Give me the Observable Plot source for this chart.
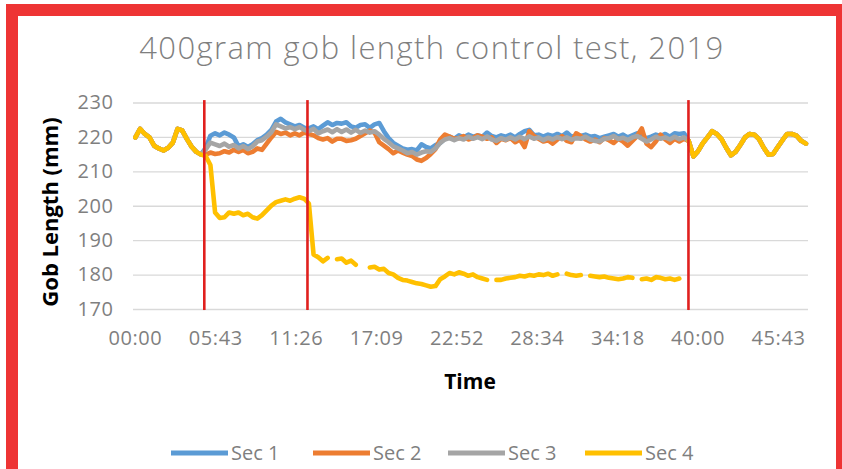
<!DOCTYPE html>
<html>
<head>
<meta charset="utf-8">
<script src="https://cdn.jsdelivr.net/npm/d3@7"></script>
<script src="https://cdn.jsdelivr.net/npm/@observablehq/plot@0.6"></script>
<style>
  html, body { margin: 0; padding: 0; background: #fff; }
  #wrap { position: relative; width: 842px; height: 469px; overflow: hidden; background: #fff; font-family: "Open Sans", sans-serif; }
  #frame { position: absolute; left: 6px; top: 4px; width: 842px; height: 540px; box-sizing: border-box; border: 12px solid #EE3434; }
  #chart { position: absolute; left: 0; top: 0; }
  #chart svg g[aria-label="x-axis tick label"] text, #chart svg g[aria-label="y-axis tick label"] text { letter-spacing: 0.6px; }
</style>
</head>
<body>
<div id="wrap"><div id="frame"></div><div id="chart"></div></div>
<script>
// ---- data ----
const sampleStep = 20; // seconds between samples
const seriesNames = ["Sec 1", "Sec 2", "Sec 3", "Sec 4"];
const seriesColors = ["#5B9BD5", "#ED7D31", "#A5A5A5", "#FFC000"];

// samples 0..14 (00:00 - 04:40), all four sections identical
const startShared = [220, 222.5, 221, 220, 217.6, 216.8, 216.2, 217, 218.5, 222.5, 222, 219.5, 217.3, 215.8, 215];

// samples 15..117 (05:00 - 39:00)
const sec1Mid = [
  217, 220.5, 221.2, 220.6, 221.4, 220.8, 220, 217.4, 218, 217.2,
  218, 219.2, 219.8, 220.8, 222.2, 224.6, 225.4, 224.4, 223.8, 223.2,
  223.6, 222.8, 222.6, 223.2, 222.4, 223.4, 224.4, 223.6, 224.2, 224,
  224.4, 223.2, 222.8, 223.6, 223.8, 222.8, 223.8, 224.2, 221.8, 219.8,
  218.4, 217.6, 216.8, 216.4, 216.6, 216.2, 218, 217.2, 216.8, 217.8,
  218.4, 219.6, 220.2, 219.6, 220.6, 220, 220.8, 220.2, 220.6, 220.2,
  221.4, 220.4, 220, 220.6, 220.2, 220.8, 220, 221, 221.8, 222.2,
  220.6, 220.8, 220.2, 220.8, 220.4, 221, 220.4, 221.4, 220.2, 220.6,
  220.4, 220.8, 220.2, 220.4, 219.8, 220.2, 220.6, 221, 220.2, 220.8,
  220, 220.6, 221.2, 220.4, 219.8, 220.2, 220.8, 220.4, 221, 220.2,
  221.2, 221, 221.2
];
const sec2Mid = [
  215, 215.6, 215.2, 215.4, 216, 215.6, 216.4, 215.8, 216.4, 215.4,
  215.8, 216.8, 216.4, 218.2, 220, 221.6, 221, 221.4, 220.6, 221.2,
  220.6, 221.4, 221, 220.6, 219.8, 219.4, 219.8, 218.8, 219.6, 219.6,
  219, 219.2, 219.6, 220.4, 221.2, 222, 221.4, 218.6, 217.6, 216.6,
  215.4, 216.2, 215.6, 215, 214.6, 213.6, 213.2, 214, 215.2, 216.6,
  219.4, 220.8, 220.2, 219.6, 219.8, 220.4, 219.4, 219.8, 220.6, 220.2,
  219.6, 220, 218.4, 219.6, 219.2, 219.8, 218.6, 219.4, 217.2, 221.8,
  220.4, 219.6, 218.8, 219.2, 218.2, 219.4, 220.4, 219, 218.6, 221.2,
  220.4, 219.4, 218.8, 219.4, 218.6, 219.8, 219.2, 218.4, 219.6, 218.8,
  217.6, 219, 220.4, 222.6, 218.2, 217.2, 218.8, 220.8, 219.4, 218.4,
  219.6, 218.8, 219.6
];
const sec3Mid = [
  216.5, 218.5, 218, 217.5, 218.2, 217.3, 217.8, 216.8, 217.5, 216.6,
  217.4, 218.8, 219.2, 220.2, 221.5, 223.8, 223.2, 222.6, 223, 222.4,
  223, 222.2, 221.8, 222.5, 221.2, 221.8, 222.3, 221.5, 222.4, 221.6,
  222.3, 221.4, 222.2, 221.3, 222, 221.4, 221.8, 220.8, 219.6, 218.6,
  217.4, 216.8, 216.2, 215.4, 215.8, 215, 215.6, 216, 215.8, 216.8,
  218.4, 219.4, 219.8, 219.2, 219.8, 219.4, 220.2, 219.6, 220.1, 219.5,
  220.3, 219.4, 219, 219.8, 219.3, 220, 219.4, 220.2, 219.5, 220.3,
  219.6, 220, 219.2, 219.9, 219.4, 220.1, 219.5, 220, 219.3, 219.8,
  219.6, 220.2, 219.4, 219, 218.8, 219.6, 219.8, 220.4, 219.5, 219.9,
  219.2, 220, 220.4, 219.6, 218.8, 219.4, 220.2, 219.6, 220, 219.4,
  220.2, 219.5, 220
];
const sec4Mid = [
  214.6, 212, 198.2, 196.6, 196.8, 198.2, 197.8, 198.2, 197.4, 197.8,
  196.8, 196.4, 197.4, 198.8, 200.2, 201.2, 201.6, 202, 201.6, 202.2,
  202.6, 202.2, 200.8, 186, 185.2, 184, 185, null, 184.6, 184.8,
  183.6, 184.2, 183, null, null, 182.2, 182.4, 181.6, 181.8, 180.6,
  180.2, 179.2, 178.6, 178.4, 178, 177.6, 177.4, 177, 176.6, 176.8,
  178.8, 179.6, 180.6, 180.2, 180.8, 180.4, 179.8, 180.2, 179.4, 179,
  178.6, null, 178.6, 178.6, 179, 179.2, 179.4, 179.8, 179.6, 180,
  179.8, 180.2, 180, 180.4, 179.8, 180.2, null, 180.4, 180, 179.8,
  180, null, 179.8, 179.6, 179.4, 179.6, 179.2, 179, 178.8, 179,
  179.4, 179.2, null, 178.8, 179, 178.6, 179.4, 179.2, 178.8, 179,
  178.6, 179, null
];

// samples 118..143 (39:20 - 47:40), all four sections identical
const endShared = [219, 214.5, 216, 218.3, 220, 221.8, 221, 219.5, 217, 214.8, 215.8, 217.8, 220, 221, 220.8, 219.5, 217, 215, 215.2, 217.2, 219.2, 221, 221, 220.5, 219, 218.2];

const xTickLabels = ["00:00", "05:43", "11:26", "17:09", "22:52", "28:34", "34:18", "40:00", "45:43"];
const yTicks = [170, 180, 190, 200, 210, 220, 230];
const changeTimes = ["04:54", "12:14", "39:19"]; // red marker lines

// ---- build ----
const toSec = s => { const [m, ss] = s.split(":").map(Number); return m * 60 + ss; };
const xTicks = xTickLabels.map(toSec);
const markers = changeTimes.map(toSec);
const mids = [sec1Mid, sec2Mid, sec3Mid, sec4Mid];
const rows = [];
seriesNames.forEach((name, k) => {
  const vals = [...startShared, ...mids[k], ...endShared];
  vals.forEach((v, i) => rows.push({series: name, t: i * sampleStep, v}));
});

const chart = Plot.plot({
  width: 842,
  height: 469,
  marginLeft: 133,
  marginRight: 34,
  marginTop: 102.5,
  marginBottom: 160,
  style: {fontFamily: "'Open Sans', sans-serif", fontSize: "20px", color: "#7f7f7f", background: "transparent", overflow: "visible"},
  x: {domain: [-8, 2871], ticks: xTicks, tickFormat: d => xTickLabels[xTicks.indexOf(d)], tickSize: 0, tickPadding: 21, label: null},
  y: {domain: [170, 230], ticks: yTicks, tickSize: 0, tickPadding: 20, label: null},
  color: {domain: seriesNames, range: seriesColors},
  marks: [
    Plot.ruleY(yTicks, {stroke: "#D9D9D9", strokeWidth: 1.3}),
    ...seriesNames.map(name => Plot.line(rows.filter(r => r.series === name), {
      x: "t", y: "v", stroke: "series", strokeWidth: 4.6, strokeLinejoin: "round", strokeLinecap: "round"
    })),
    Plot.ruleX(markers, {y1: 169.7, y2: 230.7, stroke: "#E0201E", strokeWidth: 2.6})
  ]
});
document.getElementById("chart").appendChild(chart);

// ---- titles and legend as real text ----
const svg = d3.select(chart);
svg.append("text").attr("x", 432).attr("y", 59).attr("text-anchor", "middle")
  .attr("fill", "#7f7f7f").style("font-size", "31px").style("font-weight", 300).style("letter-spacing", "1.4px")
  .style("font-family", "'Open Sans', sans-serif").text("400gram gob length control test, 2019");
svg.append("text").attr("transform", "translate(50,212) rotate(-90)").attr("text-anchor", "middle").attr("dy", "0.35em")
  .attr("fill", "#000").style("font-size", "22px").style("font-weight", 700)
  .style("font-family", "'Open Sans', sans-serif").text("Gob Length (mm)");
svg.append("text").attr("x", 470).attr("y", 382).attr("text-anchor", "middle").attr("dy", "0.35em")
  .attr("fill", "#000").style("font-size", "21px").style("font-weight", 700)
  .style("font-family", "'Open Sans', sans-serif").text("Time");
const legendX = [171, 313, 448, 585];
const lg = svg.append("g").attr("text-anchor", "start");
seriesNames.forEach((name, k) => {
  lg.append("line").attr("x1", legendX[k]).attr("x2", legendX[k] + 57).attr("y1", 453).attr("y2", 453)
    .attr("stroke", seriesColors[k]).attr("stroke-width", 5);
  lg.append("text").attr("x", legendX[k] + 60).attr("y", 453).attr("dy", "0.35em").attr("fill", "#7f7f7f")
    .attr("text-anchor", "start")
    .style("font-size", "20px").style("font-family", "'Open Sans', sans-serif").text(name);
});
</script>
</body>
</html>
